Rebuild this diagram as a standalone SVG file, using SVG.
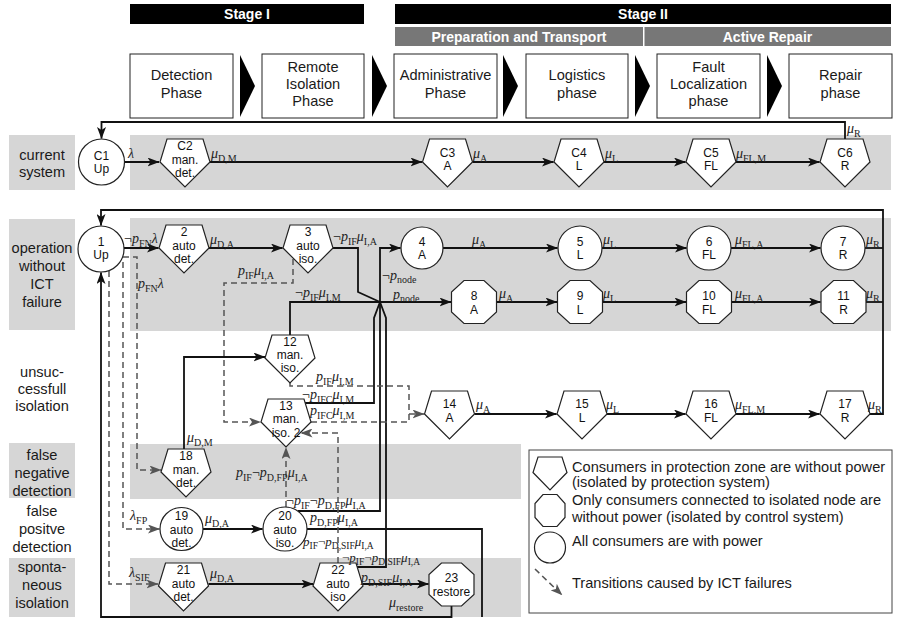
<svg xmlns="http://www.w3.org/2000/svg" width="897" height="619" viewBox="0 0 897 619">
<defs>
<style>
.band{fill:#d6d6d6}
.hb{fill:#000}
.sb{fill:#777}
.ht{font-family:"Liberation Sans",Arial,sans-serif;font-size:14px;font-weight:bold;fill:#fff;text-anchor:middle}
.pb{fill:#fff;stroke:#222;stroke-width:1}
.tri{fill:#000}
.lt{font-family:"Liberation Sans",Arial,sans-serif;font-size:14.6px;fill:#1a1a1a;text-anchor:middle}
.lg{font-family:"Liberation Sans",Arial,sans-serif;font-size:14.6px;fill:#1a1a1a}
.nd{fill:#fff;stroke:#222;stroke-width:1.2}
.nt{font-family:"Liberation Sans",Arial,sans-serif;font-size:12px;fill:#111;text-anchor:middle}
.c{fill:none;stroke:#111;stroke-width:1.8}
.ca{fill:none;stroke:#111;stroke-width:1.8;marker-end:url(#ah)}
.d{fill:none;stroke:#555;stroke-width:1.5;stroke-dasharray:6 4}
.da{fill:none;stroke:#555;stroke-width:1.5;stroke-dasharray:6 4;marker-end:url(#ahg)}
.m{font-family:"Liberation Serif","Times New Roman",serif;font-size:14px;fill:#222}
.ms{font-family:"Liberation Serif","Times New Roman",serif;font-size:13px;fill:#222}
.i{font-style:italic}
.s{font-size:10px}
.s2{font-size:9.5px}
</style>
<marker id="ah" viewBox="0 0 12 9" refX="11.5" refY="4.5" markerWidth="12" markerHeight="9" markerUnits="userSpaceOnUse" orient="auto"><path d="M0,0 L12,4.5 L0,9 L3,4.5 z" fill="#111"/></marker>
<marker id="ahg" viewBox="0 0 12 9" refX="11.5" refY="4.5" markerWidth="12" markerHeight="9" markerUnits="userSpaceOnUse" orient="auto"><path d="M0,0 L12,4.5 L0,9 L3,4.5 z" fill="#555"/></marker>
</defs>
<rect width="897" height="619" fill="#fff"/>

<g id="header">
<rect class="hb" x="130" y="4" width="234" height="20"/>
<text class="ht" x="247" y="19">Stage I</text>
<rect class="hb" x="395" y="4" width="496" height="20"/>
<text class="ht" x="643" y="19">Stage II</text>
<rect class="sb" x="395" y="27" width="248" height="19"/>
<text class="ht" x="519" y="41.5">Preparation and Transport</text>
<rect class="sb" x="644.5" y="27" width="246.5" height="19"/>
<text class="ht" x="767.5" y="41.5">Active Repair</text>
</g>

<g id="phases">
<g id="ph-detection"><rect class="pb" x="130" y="54" width="103" height="64"/><text class="lt" x="181.5" y="80">Detection</text><text class="lt" x="181.5" y="98">Phase</text></g>
<polygon class="tri" points="240,55 255,86 240,117"/>
<g id="ph-remote"><rect class="pb" x="262" y="54" width="102" height="64"/><text class="lt" x="313" y="72">Remote</text><text class="lt" x="313" y="89">Isolation</text><text class="lt" x="313" y="106">Phase</text></g>
<polygon class="tri" points="372,55 387,86 372,117"/>
<g id="ph-admin"><rect class="pb" x="394" y="54" width="103" height="64"/><text class="lt" x="445.5" y="80">Administrative</text><text class="lt" x="445.5" y="98">Phase</text></g>
<polygon class="tri" points="503,55 518,86 503,117"/>
<g id="ph-logistics"><rect class="pb" x="526" y="54" width="102" height="64"/><text class="lt" x="577" y="80">Logistics</text><text class="lt" x="577" y="98">phase</text></g>
<polygon class="tri" points="635,55 650,86 635,117"/>
<g id="ph-fault"><rect class="pb" x="657" y="54" width="103" height="64"/><text class="lt" x="708.5" y="72">Fault</text><text class="lt" x="708.5" y="89">Localization</text><text class="lt" x="708.5" y="106">phase</text></g>
<polygon class="tri" points="767,55 782,86 767,117"/>
<g id="ph-repair"><rect class="pb" x="789" y="54" width="103" height="64"/><text class="lt" x="840.5" y="80">Repair</text><text class="lt" x="840.5" y="98">phase</text></g>
</g>

<g id="bands">
<rect class="band" x="9" y="135" width="66" height="55"/>
<rect class="band" x="130" y="135" width="761" height="55"/>
<rect class="band" x="9" y="219" width="66" height="111"/>
<rect class="band" x="130" y="218" width="761" height="113"/>
<rect class="band" x="9" y="443" width="66" height="55"/>
<rect class="band" x="130" y="444" width="391" height="55"/>
<rect class="band" x="9" y="558" width="66" height="59"/>
<rect class="band" x="130" y="558" width="391" height="59"/>
</g>

<g id="row-labels">
<text class="lt" x="42" y="160">current</text><text class="lt" x="42" y="177">system</text>
<text class="lt" x="42" y="253">operation</text><text class="lt" x="42" y="271">without</text><text class="lt" x="42" y="289">ICT</text><text class="lt" x="42" y="307">failure</text>
<text class="lt" x="42" y="377">unsuc-</text><text class="lt" x="42" y="394">cessfull</text><text class="lt" x="42" y="411">isolation</text>
<text class="lt" x="42" y="460">false</text><text class="lt" x="42" y="478">negative</text><text class="lt" x="42" y="496">detection</text>
<text class="lt" x="42" y="516">false</text><text class="lt" x="42" y="534">positve</text><text class="lt" x="42" y="552">detection</text>
<text class="lt" x="42" y="572">sponta-</text><text class="lt" x="42" y="590">neous</text><text class="lt" x="42" y="608">isolation</text>
</g>

<g id="connectors">
<path class="ca" d="M124.5,162 H159"/>
<path class="ca" d="M210,162 H422"/>
<path class="ca" d="M472.5,162 H553.5"/>
<path class="ca" d="M604,162 H685.5"/>
<path class="ca" d="M736,162 H819.5"/>
<path class="ca" d="M845,139 V122 H101.5 V138.5"/>
<path class="ca" d="M124,248 H158.5"/>
<path class="ca" d="M209,248 H282.5"/>
<path class="c" d="M333,248 H358 V292 L380,302"/>
<path class="ca" d="M380,302 V248 H400.5"/>
<path class="ca" d="M380,302 H451"/>
<path class="ca" d="M443,248 H557.5"/>
<path class="ca" d="M602,248 H686.5"/>
<path class="ca" d="M731,248 H820.5"/>
<path class="ca" d="M496.5,302 H557"/>
<path class="ca" d="M602.5,302 H686"/>
<path class="ca" d="M731.5,302 H820.5"/>
<path class="c" d="M865,248 H883"/>
<path class="c" d="M866,302 H883"/>
<path class="ca" d="M870,414 H883 V210 H101 V225.5"/>
<path class="c" d="M290,335 V302 H380"/>
<path class="c" d="M305,403 H374 V318 L380,302"/>
<path class="c" d="M298,511 H380 V302"/>
<path class="c" d="M357,567 H386 V318 L380,302"/>
<path class="ca" d="M184,449 V357 H265"/>
<path class="ca" d="M474.5,414 H556.5"/>
<path class="ca" d="M607,414 H685.5"/>
<path class="ca" d="M736,414 H819.5"/>
<path class="ca" d="M203,529 H262.5"/>
<path class="ca" d="M208.5,584 H313"/>
<path class="ca" d="M363,584 H428.5"/>
<path class="ca" d="M451.5,606 V617 H101 V272.5"/>
<path class="c" d="M307,529 H482 V617"/>
<path class="da" d="M123,257 H137 V470 H161"/>
<path class="da" d="M123,262 V529 H159.5"/>
<path class="da" d="M109,271 V584 H158"/>
<path class="da" d="M293,259 V283 H224 V422 H260.5"/>
<path class="d" d="M290,383 V386 H409 V422"/>
<path class="d" d="M311,422 H409"/>
<path class="da" d="M409,414 H424"/>
<path class="da" d="M286,507 V447.5"/>
<path class="da" d="M338,563 V433 H301"/>
</g>

<g id="nodes">
<g id="C1"><circle class="nd" cx="101.5" cy="162" r="23"/><text class="nt" x="101.5" y="160">C1</text><text class="nt" x="101.5" y="173">Up</text></g>
<g id="C2"><polygon class="nd" points="167,139 203,139 210,162 185,187 160,162"/><text class="nt" x="185" y="150">C2</text><text class="nt" x="185" y="163.5">man.</text><text class="nt" x="185" y="176.5">det.</text></g>
<g id="C3"><polygon class="nd" points="429.5,139 465.5,139 472.5,162 447.5,187 422.5,162"/><text class="nt" x="447.5" y="156.5">C3</text><text class="nt" x="447.5" y="169.5">A</text></g>
<g id="C4"><polygon class="nd" points="561,139 597,139 604,162 579,187 554,162"/><text class="nt" x="579" y="156.5">C4</text><text class="nt" x="579" y="169.5">L</text></g>
<g id="C5"><polygon class="nd" points="693,139 729,139 736,162 711,187 686,162"/><text class="nt" x="711" y="156.5">C5</text><text class="nt" x="711" y="169.5">FL</text></g>
<g id="C6"><polygon class="nd" points="827,139 863,139 870,162 845,187 820,162"/><text class="nt" x="845" y="156.5">C6</text><text class="nt" x="845" y="169.5">R</text></g>

<g id="n1"><circle class="nd" cx="101" cy="249" r="23"/><text class="nt" x="101" y="246">1</text><text class="nt" x="101" y="259">Up</text></g>
<g id="n2"><polygon class="nd" points="166,225 202,225 209,248 184,273 159,248"/><text class="nt" x="184" y="236">2</text><text class="nt" x="184" y="249.5">auto</text><text class="nt" x="184" y="262.5">det.</text></g>
<g id="n3"><polygon class="nd" points="290,225 326,225 333,248 308,273 283,248"/><text class="nt" x="308" y="236">3</text><text class="nt" x="308" y="249.5">auto</text><text class="nt" x="308" y="262.5">iso.</text></g>
<g id="n4"><circle class="nd" cx="422" cy="248" r="21"/><text class="nt" x="422" y="246">4</text><text class="nt" x="422" y="259">A</text></g>
<g id="n5"><circle class="nd" cx="580" cy="248" r="22"/><text class="nt" x="580" y="246">5</text><text class="nt" x="580" y="259">L</text></g>
<g id="n6"><circle class="nd" cx="709" cy="248" r="22"/><text class="nt" x="709" y="246">6</text><text class="nt" x="709" y="259">FL</text></g>
<g id="n7"><circle class="nd" cx="843" cy="248" r="22"/><text class="nt" x="843" y="246">7</text><text class="nt" x="843" y="259">R</text></g>
<g id="n8"><polygon class="nd" points="464,280.5 484,280.5 496.5,292 496.5,312 484,323.5 464,323.5 451.5,312 451.5,292"/><text class="nt" x="474" y="299.5">8</text><text class="nt" x="474" y="313.5">A</text></g>
<g id="n9"><polygon class="nd" points="570,280.5 590,280.5 602.5,292 602.5,312 590,323.5 570,323.5 557.5,312 557.5,292"/><text class="nt" x="580" y="299.5">9</text><text class="nt" x="580" y="313.5">L</text></g>
<g id="n10"><polygon class="nd" points="699,280.5 719,280.5 731.5,292 731.5,312 719,323.5 699,323.5 686.5,312 686.5,292"/><text class="nt" x="709" y="299.5">10</text><text class="nt" x="709" y="313.5">FL</text></g>
<g id="n11"><polygon class="nd" points="833.5,280.5 853.5,280.5 866,292 866,312 853.5,323.5 833.5,323.5 821,312 821,292"/><text class="nt" x="843.5" y="299.5">11</text><text class="nt" x="843.5" y="313.5">R</text></g>
<g id="n12"><polygon class="nd" points="272,335 308,335 315,358 290,383 265,358"/><text class="nt" x="290" y="345.5">12</text><text class="nt" x="290" y="359">man.</text><text class="nt" x="290" y="372">iso.</text></g>
<g id="n13"><polygon class="nd" points="268,399 304,399 311,422 286,447 261,422"/><text class="nt" x="286" y="409.5">13</text><text class="nt" x="286" y="423">man.</text><text class="nt" x="286" y="436.5">iso. 2</text></g>
<g id="n14"><polygon class="nd" points="431.5,391 467.5,391 474.5,414 449.5,439 424.5,414"/><text class="nt" x="449.5" y="407.5">14</text><text class="nt" x="449.5" y="421.5">A</text></g>
<g id="n15"><polygon class="nd" points="564,391 600,391 607,414 582,439 557,414"/><text class="nt" x="582" y="407.5">15</text><text class="nt" x="582" y="421.5">L</text></g>
<g id="n16"><polygon class="nd" points="693,391 729,391 736,414 711,439 686,414"/><text class="nt" x="711" y="407.5">16</text><text class="nt" x="711" y="421.5">FL</text></g>
<g id="n17"><polygon class="nd" points="827,391 863,391 870,414 845,439 820,414"/><text class="nt" x="845" y="407.5">17</text><text class="nt" x="845" y="421.5">R</text></g>
<g id="n18"><polygon class="nd" points="168,449 204,449 211,472 186,497 161,472"/><text class="nt" x="186" y="460">18</text><text class="nt" x="186" y="473.5">man.</text><text class="nt" x="186" y="486.5">det.</text></g>
<g id="n19"><circle class="nd" cx="181.5" cy="529" r="21.5"/><text class="nt" x="181.5" y="519.5">19</text><text class="nt" x="181.5" y="533.5">auto</text><text class="nt" x="181.5" y="546.5">det.</text></g>
<g id="n20"><circle class="nd" cx="285" cy="529" r="22"/><text class="nt" x="285" y="519.5">20</text><text class="nt" x="285" y="533.5">auto</text><text class="nt" x="285" y="546.5">iso.</text></g>
<g id="n21"><polygon class="nd" points="165.5,563 201.5,563 208.5,586 183.5,611 158.5,586"/><text class="nt" x="183.5" y="574">21</text><text class="nt" x="183.5" y="587.5">auto</text><text class="nt" x="183.5" y="600.5">det.</text></g>
<g id="n22"><polygon class="nd" points="320,563 356,563 363,586 338,611 313,586"/><text class="nt" x="338" y="574">22</text><text class="nt" x="338" y="587.5">auto</text><text class="nt" x="338" y="600.5">iso</text></g>
<g id="n23"><polygon class="nd" points="441.5,563 461.5,563 474,574.5 474,594.5 461.5,606 441.5,606 429,594.5 429,574.5"/><text class="nt" x="451.5" y="581.5">23</text><text class="nt" x="451.5" y="596">restore</text></g>
</g>

<g id="edge-labels">
<text class="m" x="128" y="158"><tspan class="i">λ</tspan></text>
<text class="m" x="211" y="158"><tspan class="i">μ</tspan><tspan class="s" dy="3.5">D,M</tspan></text>
<text class="m" x="473" y="158"><tspan class="i">μ</tspan><tspan class="s" dy="3.5">A</tspan></text>
<text class="m" x="605" y="158"><tspan class="i">μ</tspan><tspan class="s" dy="3.5">L</tspan></text>
<text class="m" x="736" y="158"><tspan class="i">μ</tspan><tspan class="s" dy="3.5">FL,M</tspan></text>
<text class="m" x="847" y="133"><tspan class="i">μ</tspan><tspan class="s" dy="3.5">R</tspan></text>

<text class="m" x="124" y="243">¬<tspan class="i">p</tspan><tspan class="s" dy="3.5">FN</tspan><tspan class="i" dy="-3.5">λ</tspan></text>
<text class="m" x="210" y="244"><tspan class="i">μ</tspan><tspan class="s" dy="3.5">D,A</tspan></text>
<text class="m" x="333" y="241">¬<tspan class="i">p</tspan><tspan class="s" dy="3.5">IF</tspan><tspan class="i" dy="-3.5">μ</tspan><tspan class="s" dy="3.5">I,A</tspan></text>
<text class="m" x="472" y="244"><tspan class="i">μ</tspan><tspan class="s" dy="3.5">A</tspan></text>
<text class="m" x="603" y="244"><tspan class="i">μ</tspan><tspan class="s" dy="3.5">L</tspan></text>
<text class="m" x="735" y="244"><tspan class="i">μ</tspan><tspan class="s" dy="3.5">FL,A</tspan></text>
<text class="m" x="866" y="244"><tspan class="i">μ</tspan><tspan class="s" dy="3.5">R</tspan></text>
<text class="m" x="499" y="298"><tspan class="i">μ</tspan><tspan class="s" dy="3.5">A</tspan></text>
<text class="m" x="603" y="298"><tspan class="i">μ</tspan><tspan class="s" dy="3.5">L</tspan></text>
<text class="m" x="735" y="298"><tspan class="i">μ</tspan><tspan class="s" dy="3.5">FL,A</tspan></text>
<text class="m" x="866" y="298"><tspan class="i">μ</tspan><tspan class="s" dy="3.5">R</tspan></text>
<text class="m" x="393" y="299"><tspan class="i">p</tspan><tspan class="s" dy="3">node</tspan></text>
<text class="m" x="382" y="280">¬<tspan class="i">p</tspan><tspan class="s" dy="3">node</tspan></text>
<text class="m" x="295" y="297">¬<tspan class="i">p</tspan><tspan class="s" dy="3.5">IF</tspan><tspan class="i" dy="-3.5">μ</tspan><tspan class="s" dy="3.5">I,M</tspan></text>
<text class="m" x="238" y="275"><tspan class="i">p</tspan><tspan class="s" dy="3.5">IF</tspan><tspan class="i" dy="-3.5">μ</tspan><tspan class="s" dy="3.5">I,A</tspan></text>
<text class="m" x="138" y="288"><tspan class="i">p</tspan><tspan class="s" dy="3.5">FN</tspan><tspan class="i" dy="-3.5">λ</tspan></text>

<text class="m" x="316" y="381"><tspan class="i">p</tspan><tspan class="s" dy="3.5">IF</tspan><tspan class="i" dy="-3.5">μ</tspan><tspan class="s" dy="3.5">I,M</tspan></text>
<text class="m" x="302" y="399">¬<tspan class="i">p</tspan><tspan class="s" dy="3.5">IFC</tspan><tspan class="i" dy="-3.5">μ</tspan><tspan class="s" dy="3.5">I,M</tspan></text>
<text class="m" x="310" y="415"><tspan class="i">p</tspan><tspan class="s" dy="3.5">IFC</tspan><tspan class="i" dy="-3.5">μ</tspan><tspan class="s" dy="3.5">I,M</tspan></text>
<text class="m" x="476" y="409"><tspan class="i">μ</tspan><tspan class="s" dy="3.5">A</tspan></text>
<text class="m" x="606" y="409"><tspan class="i">μ</tspan><tspan class="s" dy="3.5">L</tspan></text>
<text class="m" x="735" y="409"><tspan class="i">μ</tspan><tspan class="s" dy="3.5">FL,M</tspan></text>
<text class="m" x="868" y="409"><tspan class="i">μ</tspan><tspan class="s" dy="3.5">R</tspan></text>
<text class="m" x="187" y="442"><tspan class="i">μ</tspan><tspan class="s" dy="3.5">D,M</tspan></text>

<text class="m" x="236" y="477"><tspan class="i">p</tspan><tspan class="s" dy="3.5">IF</tspan><tspan dy="-3.5">¬</tspan><tspan class="i">p</tspan><tspan class="s" dy="3.5">D,FP</tspan><tspan class="i" dy="-3.5">μ</tspan><tspan class="s" dy="3.5">I,A</tspan></text>
<text class="m" x="130" y="520"><tspan class="i">λ</tspan><tspan class="s" dy="3.5">FP</tspan></text>
<text class="m" x="205" y="523"><tspan class="i">μ</tspan><tspan class="s" dy="3.5">D,A</tspan></text>
<text class="m" x="286" y="505">¬<tspan class="i">p</tspan><tspan class="s" dy="3.5">IF</tspan><tspan dy="-3.5">¬</tspan><tspan class="i">p</tspan><tspan class="s" dy="3.5">D,FP</tspan><tspan class="i" dy="-3.5">μ</tspan><tspan class="s" dy="3.5">I,A</tspan></text>
<text class="m" x="310" y="522"><tspan class="i">p</tspan><tspan class="s" dy="3.5">D,FP</tspan><tspan class="i" dy="-3.5">μ</tspan><tspan class="s" dy="3.5">I,A</tspan></text>
<text class="ms" x="303" y="546"><tspan class="i">p</tspan><tspan class="s2" dy="3">IF</tspan><tspan dy="-3">¬</tspan><tspan class="i">p</tspan><tspan class="s2" dy="3">D,SIF</tspan><tspan class="i" dy="-3">μ</tspan><tspan class="s2" dy="3">I,A</tspan></text>
<text class="m" x="129" y="577"><tspan class="i">λ</tspan><tspan class="s" dy="3.5">SIF</tspan></text>
<text class="m" x="210" y="578"><tspan class="i">μ</tspan><tspan class="s" dy="3.5">D,A</tspan></text>
<text class="ms" x="342" y="562">¬<tspan class="i">p</tspan><tspan class="s2" dy="3">IF</tspan><tspan dy="-3">¬</tspan><tspan class="i">p</tspan><tspan class="s2" dy="3">D,SIF</tspan><tspan class="i" dy="-3">μ</tspan><tspan class="s2" dy="3">I,A</tspan></text>
<text class="m" x="361" y="582"><tspan class="i">p</tspan><tspan class="s" dy="3.5">D,SIF</tspan><tspan class="i" dy="-3.5">μ</tspan><tspan class="s" dy="3.5">I,A</tspan></text>
<text class="m" x="389" y="607"><tspan class="i">μ</tspan><tspan class="s" dy="3.5">restore</tspan></text>
</g>

<g id="legend">
<rect x="529" y="450" width="363" height="163" fill="#fff" stroke="#444" stroke-width="1"/>
<polygon class="nd" points="538,457 562,457 567,472.5 550,490 533,472.5"/>
<text class="lg" x="572" y="472">Consumers in protection zone are without power</text>
<text class="lg" x="572" y="487">(isolated by protection system)</text>
<polygon class="nd" points="543,494.5 557,494.5 565,503.5 565,517.5 557,526.5 543,526.5 535,517.5 535,503.5"/>
<text class="lg" x="572" y="505">Only consumers connected to isolated node are</text>
<text class="lg" x="572" y="522">without power (isolated by control system)</text>
<circle class="nd" cx="550" cy="547.5" r="15.5"/>
<text class="lg" x="572" y="546">All consumers are with power</text>
<path class="da" d="M535,569 L562,595"/>
<text class="lg" x="572" y="588">Transitions caused by ICT failures</text>
</g>
</svg>
